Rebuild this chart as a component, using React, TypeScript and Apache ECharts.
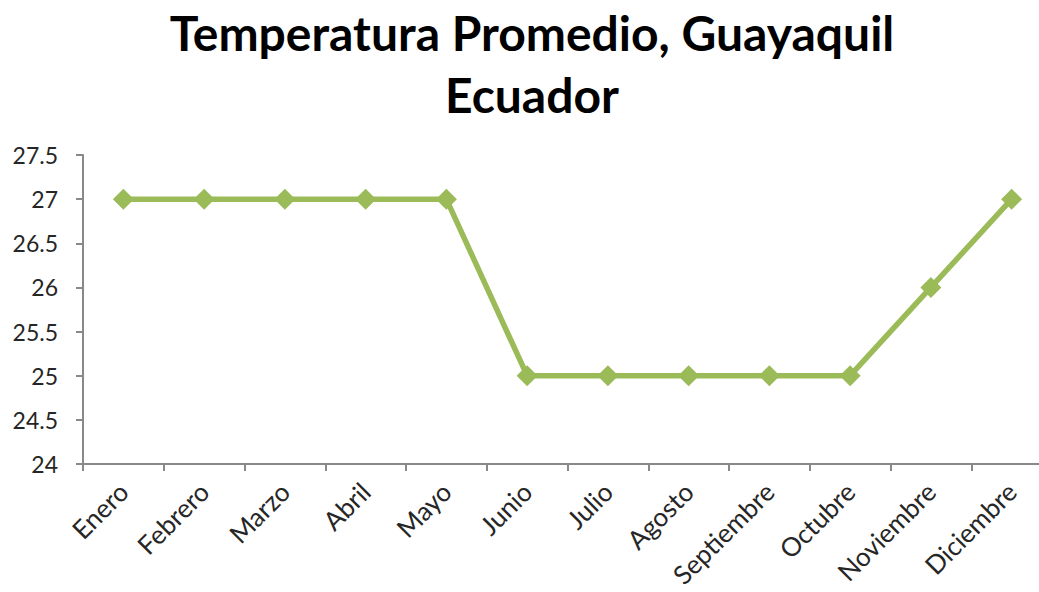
import React, { useEffect, useRef } from "react";
import * as echarts from "echarts";

const months = ["Enero", "Febrero", "Marzo", "Abril", "Mayo", "Junio", "Julio", "Agosto", "Septiembre", "Octubre", "Noviembre", "Diciembre"];
const temps = [27, 27, 27, 27, 27, 25, 25, 25, 25, 25, 26, 27];
const titleText = "Temperatura Promedio, Guayaquil\nEcuador";

export default function App() {
  const ref = useRef<HTMLDivElement>(null);
  useEffect(() => {
    const chart = echarts.init(ref.current!, undefined, { renderer: "svg" });
    chart.setOption({
      animation: false,
      backgroundColor: "#ffffff",
      title: {
        text: titleText,
        left: 532,
        top: 1,
        padding: 0,
        textAlign: "center",
        textStyle: {
          fontFamily: "Lato",
          fontWeight: "bold",
          fontSize: 48,
          lineHeight: 62,
          color: "#000000",
        },
      },
      grid: { left: 83, right: 0, top: 155, bottom: 128, containLabel: false },
      xAxis: {
        type: "category",
        data: months,
        boundaryGap: true,
        axisLine: { lineStyle: { color: "#898989", width: 2 } },
        axisTick: { show: true, length: 7, lineStyle: { color: "#898989", width: 2 } },
        axisLabel: {
          rotate: 45,
          interval: 0,
          margin: 23,
          fontFamily: "Lato",
          fontSize: 26,
          color: "#262626",
        },
      },
      yAxis: {
        type: "value",
        min: 24,
        max: 27.5,
        interval: 0.5,
        axisLine: { show: true, lineStyle: { color: "#898989", width: 2 } },
        axisTick: { show: true, length: 7, lineStyle: { color: "#898989", width: 2 } },
        splitLine: { show: false },
        axisLabel: {
          margin: 25,
          fontFamily: "Lato",
          fontSize: 23,
          color: "#262626",
        },
      },
      series: [
        {
          type: "line",
          data: temps,
          symbol: "diamond",
          symbolSize: 21,
          lineStyle: { color: "#9BBB59", width: 5.5 },
          itemStyle: { color: "#9BBB59" },
        },
      ],
    });
    return () => chart.dispose();
  }, []);
  return (
    <div style={{ position: "absolute", left: 0, top: 0, width: 1039, height: 592, overflow: "hidden" }}>
      <div ref={ref} style={{ width: 1052, height: 592 }} />
    </div>
  );
}
